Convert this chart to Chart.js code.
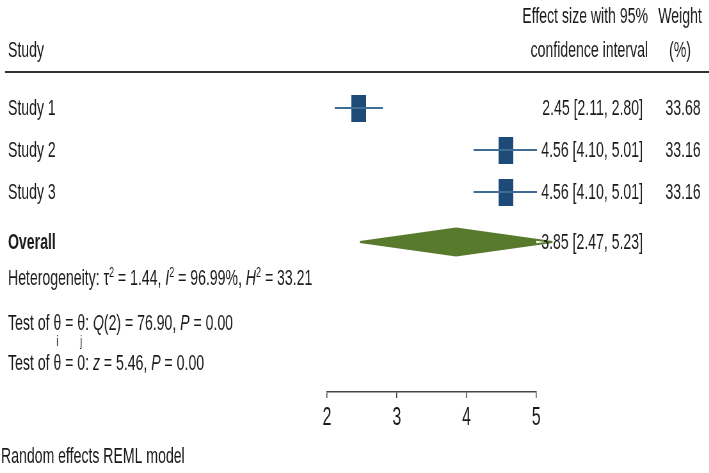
<!DOCTYPE html>
<html>
<head>
<meta charset="utf-8">
<title>Forest plot</title>
<script src="https://cdn.jsdelivr.net/npm/chart.js@4.4.0/dist/chart.umd.min.js"></script>
<style>
  html, body { margin: 0; padding: 0; background: #fff; overflow: hidden; }
  #wrap { width: 709px; height: 473px; overflow: hidden; }
  /* the reference graph is horizontally condensed */
  #forestPlot { transform: scaleX(0.64); transform-origin: 0 0; display: block; }
</style>
</head>
<body>
<div id="wrap"><canvas id="forestPlot" width="1108" height="473"></canvas></div>
<script>
// ---- data ----
const studies = ["Study 1", "Study 2", "Study 3"];
const estimates = [2.45, 4.56, 4.56];
const lowerCI = [2.11, 4.10, 4.10];
const upperCI = [2.80, 5.01, 5.01];
const weights = [33.68, 33.16, 33.16];
const overallLabel = "Overall";
const overallEst = 3.85;
const overallLo = 2.47;
const overallHi = 5.23;
const xTicks = [2, 3, 4, 5];

const headerStudy = "Study";
const headerEffect = ["Effect size with 95%", "confidence interval"];
const headerWeight = ["Weight", "(%)"];
const footNote = "Random effects REML model";

// rich text lines: [text, style]  ("" normal, "i" italic, "sup", "sub")
const hetLine = [["Heterogeneity: τ", ""], ["2", "sup"], [" = 1.44, ", ""], ["I", "i"], ["2", "sup"],
  [" = 96.99%, ", ""], ["H", "i"], ["2", "sup"], [" = 33.21", ""]];
const testHomLine = [["Test of ", ""], ["θ", ""], ["i", "sub"], [" = ", ""], ["θ", ""], ["j", "sub"],
  [": ", ""], ["Q", "i"], ["(2) = 76.90, ", ""], ["P", "i"], [" = 0.00", ""]];
const testZeroLine = [["Test of θ = 0: ", ""], ["z", "i"], [" = 5.46, ", ""], ["P", "i"], [" = 0.00", ""]];

// ---- layout ----
const SQUASH = 0.64;
const sx = (x) => x / SQUASH;
const FONT = "'Liberation Sans', Arial, sans-serif";
const TEXT = "#1a1a1a";
const overallRow = 3.19;

function makeBox(w, h, color) {
  const c = document.createElement("canvas");
  c.width = w;
  c.height = h;
  const g = c.getContext("2d");
  g.fillStyle = color;
  g.fillRect(0, 0, w, h);
  return c;
}
const studyBox = makeBox(23, 27, "#1d4a77");

function fmtCI(e, lo, hi) {
  return `${e.toFixed(2)} [${lo.toFixed(2)}, ${hi.toFixed(2)}]`;
}

function drawRich(ctx, x, base, parts) {
  let lastW = 0;
  ctx.textAlign = "left";
  parts.forEach(([txt, st]) => {
    if (st === "sub") {
      ctx.font = `14px ${FONT}`;
      ctx.textAlign = "center";
      ctx.fillText(txt, x - lastW / 2, base + 16);
      ctx.textAlign = "left";
      return;
    }
    let size = 22;
    let dy = 0;
    let style = "";
    if (st === "sup") { size = 14; dy = -8; }
    if (st === "i") style = "italic ";
    ctx.font = `${style}${size}px ${FONT}`;
    ctx.fillText(txt, x, base + dy);
    lastW = ctx.measureText(txt).width;
    x += lastW;
  });
}

const forestText = {
  id: "forestText",
  afterDraw(chart) {
    const ctx = chart.ctx;
    const yScale = chart.scales.y;
    ctx.save();
    ctx.fillStyle = TEXT;
    ctx.textBaseline = "alphabetic";
    ctx.font = `22px ${FONT}`;

    // header
    ctx.textAlign = "left";
    ctx.fillText(headerStudy, sx(8), 57);
    ctx.textAlign = "right";
    ctx.fillText(headerEffect[0], sx(648), 23);
    ctx.fillText(headerEffect[1], sx(648), 57);
    ctx.textAlign = "center";
    ctx.fillText(headerWeight[0], sx(680), 23);
    ctx.fillText(headerWeight[1], sx(680), 57);

    ctx.strokeStyle = "#333";
    ctx.lineWidth = 2;
    ctx.beginPath();
    ctx.moveTo(sx(5), 72);
    ctx.lineTo(chart.width, 72);
    ctx.stroke();

    // study rows
    studies.forEach((name, i) => {
      const by = yScale.getPixelForValue(i) + 7;
      ctx.font = `22px ${FONT}`;
      ctx.textAlign = "left";
      ctx.fillText(name, sx(8), by);
      ctx.textAlign = "right";
      ctx.fillText(fmtCI(estimates[i], lowerCI[i], upperCI[i]), sx(643), by);
      ctx.textAlign = "center";
      ctx.fillText(weights[i].toFixed(2), sx(683), by);
    });

    // overall row
    const oy = yScale.getPixelForValue(overallRow) + 7;
    ctx.font = `bold 22px ${FONT}`;
    ctx.textAlign = "left";
    ctx.fillText(overallLabel, sx(8), oy);
    ctx.font = `22px ${FONT}`;
    ctx.textAlign = "right";
    ctx.fillText(fmtCI(overallEst, overallLo, overallHi), sx(643), oy);

    // statistics
    drawRich(ctx, sx(8), 285, hetLine);
    drawRich(ctx, sx(8), 330, testHomLine);
    drawRich(ctx, sx(8), 370, testZeroLine);

    ctx.font = `22px ${FONT}`;
    ctx.textAlign = "left";
    ctx.fillText(footNote, sx(1), 463);
    ctx.restore();
  },
};

const ciSets = studies.map((s, i) => ({
  label: s + " CI",
  data: [{ x: lowerCI[i], y: i }, { x: upperCI[i], y: i }],
  showLine: true,
  borderColor: "#3f6c94",
  borderWidth: 2,
  pointRadius: 0,
  clip: false,
}));

const diamondHalf = 0.32;
const diamondSet = {
  label: "Overall",
  data: [
    { x: overallLo, y: overallRow },
    { x: overallEst, y: overallRow - diamondHalf },
    { x: overallHi, y: overallRow },
    { x: overallEst, y: overallRow + diamondHalf },
    { x: overallLo, y: overallRow },
  ],
  showLine: true,
  fill: "shape",
  backgroundColor: "#587a2c",
  borderColor: "#587a2c",
  borderWidth: 2,
  borderJoinStyle: "miter",
  tension: 0,
  pointRadius: 0,
  clip: false,
};

const boxSet = {
  label: "Estimates",
  data: estimates.map((e, i) => ({ x: e, y: i })),
  pointStyle: studyBox,
  pointRadius: 12,
  clip: false,
};

new Chart(document.getElementById("forestPlot"), {
  type: "scatter",
  data: { datasets: [...ciSets, boxSet, diamondSet] },
  options: {
    responsive: false,
    devicePixelRatio: 1,
    animation: false,
    events: [],
    layout: { padding: { left: 511, right: 270, top: 76, bottom: 0 } },
    plugins: { legend: { display: false }, tooltip: { enabled: false } },
    scales: {
      x: {
        type: "linear",
        position: "bottom",
        min: 2,
        max: 5,
        afterBuildTicks: (scale) => {
          scale.ticks = xTicks.map((v) => ({ value: v }));
        },
        afterFit: (scale) => {
          scale.height = 81;
        },
        ticks: {
          color: TEXT,
          font: { family: FONT, size: 25 },
          padding: 5,
          maxRotation: 0,
          autoSkip: false,
        },
        grid: { drawOnChartArea: false, drawTicks: true, tickLength: 6, color: "#444", lineWidth: 1.5 },
        border: { display: true, color: "#444", width: 1.5 },
      },
      y: {
        type: "linear",
        reverse: true,
        min: -0.762,
        max: 6.762,
        display: false,
      },
    },
  },
  plugins: [forestText],
});
</script>
</body>
</html>
